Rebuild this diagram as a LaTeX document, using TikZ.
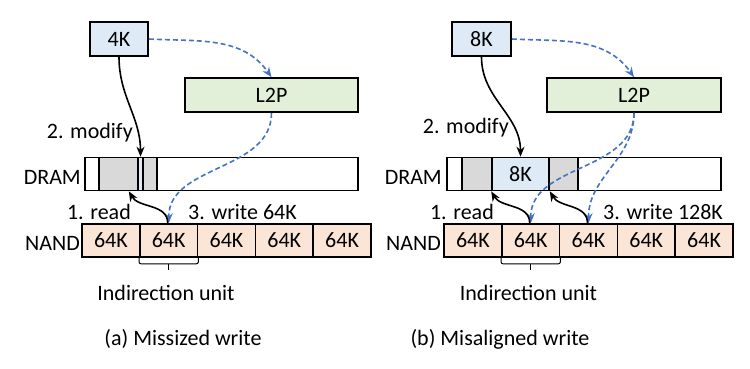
\documentclass[tikz,border=0pt]{standalone}
\usepackage{fontspec}
\setmainfont{Carlito}
\usetikzlibrary{arrows.meta}
\definecolor{reqblue}{HTML}{DEEBF7}
\definecolor{mapgreen}{HTML}{E2F0D9}
\definecolor{flashpeach}{HTML}{FBE5D6}
\definecolor{cachegray}{HTML}{D9D9D9}
\definecolor{linkblue}{HTML}{4472C4}
\begin{document}
\begin{tikzpicture}[x=1pt,y=-1pt,
  font=\fontsize{22}{26}\selectfont,
  blk/.style={draw=black, line width=1.6pt, inner sep=0pt, minimum height=34pt},
  cell/.style={blk, fill=flashpeach, minimum width=57.8pt, minimum height=33pt},
  dram/.style={blk, fill=white, minimum height=33pt},
  cached/.style={blk, fill=cachegray, minimum height=33pt},
  lbl/.style={inner sep=0pt},
  solidarrow/.style={line width=1.6pt, -{Stealth[length=10pt,width=8pt]}},
  maparrow/.style={line width=1.6pt, linkblue, dash pattern=on 5pt off 3pt,
    -{Stealth[length=10pt,width=8pt]}},
  brace/.style={line width=1pt, rounded corners=2pt}]
\useasboundingbox (0,0) rectangle (750,368);

% ---------------- (a) missized write ----------------
\node[blk, fill=reqblue, minimum width=58pt] (reqA) at (119,39) {4K};
\node[blk, fill=mapgreen, minimum width=173pt] (l2pA) at (271.5,95) {L2P};
\node[dram, minimum width=273pt] (dramA) at (221.5,174) {};
\node[cached, minimum width=39pt] (grayA1) at (118.5,174) {};
\node[blk, fill=reqblue, minimum width=5pt, minimum height=33pt] (stripA) at (140.5,174) {};
\node[cached, minimum width=14pt] (grayA2) at (150,174) {};
\foreach \i/\cx in {1/110.9, 2/168.7, 3/226.5, 4/284.3, 5/342.1}
  \node[cell] (nandA\i) at (\cx,240.5) {64K};

\node[lbl, anchor=base east] (dramlblA) at (81,184) {DRAM};
\node[lbl, anchor=base east] (nandlblA) at (80,250) {NAND};
\node[lbl, anchor=base east] (modA) at (133,138) {2. modify};
\node[lbl, anchor=base east] (readA) at (131,219) {1. read};
\node[lbl, anchor=base west] (writeA) at (188,219) {3. write 64K};
\node[lbl, anchor=base] (unitA) at (166,300) {Indirection unit};
\node[lbl, anchor=base] (capA) at (183,345) {(a) Missized write};

\draw[solidarrow] (reqA.south) to[out=-90, in=90] (stripA.north);
\draw[maparrow] (reqA.east) to[out=-3, in=125] (l2pA.north);
\draw[maparrow] (l2pA.south) to[out=-90, in=90] (nandA2.north);
\draw[solidarrow] ([xshift=-1pt]nandA2.north) to[out=90, in=-60] ([xshift=-10pt]grayA1.south east);
\draw[brace] (nandA2.south west) -- ([yshift=-6pt]nandA2.south west)
  -- ([yshift=-6pt]nandA2.south east) -- (nandA2.south east);
\draw[brace] ([yshift=-6pt]nandA2.south) -- ([yshift=-12pt]nandA2.south);

% ---------------- (b) misaligned write ----------------
\node[blk, fill=reqblue, minimum width=59pt] (reqB) at (481.5,39) {8K};
\node[blk, fill=mapgreen, minimum width=174pt] (l2pB) at (634,95) {L2P};
\node[dram, minimum width=274pt] (dramB) at (584,174) {};
\node[cached, minimum width=30pt] (grayB1) at (477,174) {};
\node[blk, fill=reqblue, minimum width=57pt, minimum height=33pt] (eightK) at (520.5,174) {8K};
\node[cached, minimum width=29pt] (grayB2) at (563.5,174) {};
\foreach \i/\cx in {1/472.9, 2/530.7, 3/588.5, 4/646.3, 5/704.1}
  \node[cell] (nandB\i) at (\cx,240.5) {64K};

\node[lbl, anchor=base east] (dramlblB) at (442,184) {DRAM};
\node[lbl, anchor=base east] (nandlblB) at (441,250) {NAND};
\node[lbl, anchor=base east] (modB) at (509,133) {2. modify};
\node[lbl, anchor=base east] (readB) at (494,219) {1. read};
\node[lbl, anchor=base west] (writeB) at (603,219) {3. write 128K};
\node[lbl, anchor=base] (unitB) at (528.5,300) {Indirection unit};
\node[lbl, anchor=base] (capB) at (500,345) {(b) Misaligned write};

\draw[solidarrow] (reqB.south) to[out=-90, in=90] (eightK.north);
\draw[maparrow] (reqB.east) to[out=-3, in=125] (l2pB.north);
\draw[maparrow] (l2pB.south) to[out=-90, in=90] (nandB2.north);
\draw[maparrow] (l2pB.south) to[out=-90, in=90] (nandB3.north);
\draw[solidarrow] ([xshift=-1pt]nandB2.north) to[out=90, in=-60] (eightK.south west);
\draw[solidarrow] ([xshift=-1pt]nandB3.north) to[out=90, in=-60] (eightK.south east);
\draw[brace] (nandB2.south west) -- ([yshift=-6pt]nandB2.south west)
  -- ([yshift=-6pt]nandB2.south east) -- (nandB2.south east);
\draw[brace] ([yshift=-6pt]nandB2.south) -- ([yshift=-12pt]nandB2.south);
\end{tikzpicture}
\end{document}
